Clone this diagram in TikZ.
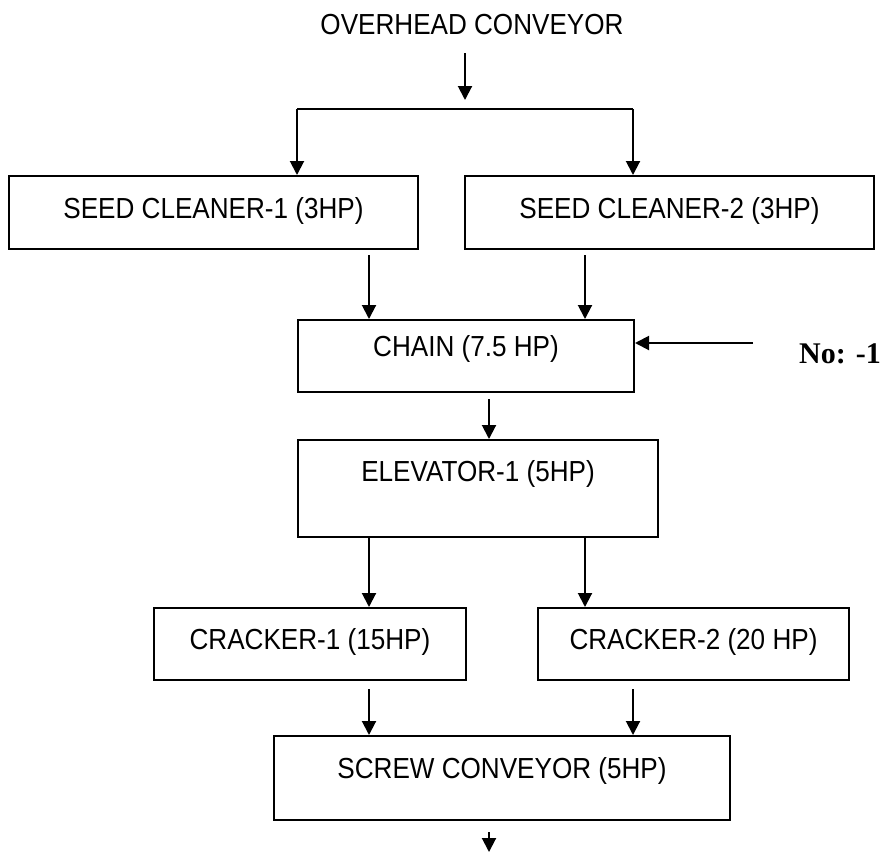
\documentclass[tikz,border=0pt]{standalone}
\usepackage{fontspec}
\setmainfont{Liberation Sans}[FakeStretch=0.9]
\newfontfamily\notefont{Liberation Serif}
\usetikzlibrary{arrows.meta}

\tikzset{
  label text/.style={font=\fontsize{29}{31}\selectfont, inner sep=0pt},
  stage/.style={draw, line width=2pt, inner xsep=0pt, inner ysep=0pt,
    anchor=north west, font=\fontsize{29}{31}\selectfont},
  flow/.style={line width=2pt, -{Triangle[length=14pt,width=14pt]}},
  link/.style={line width=2pt},
}

\begin{document}
\begin{tikzpicture}[x=1pt,y=-1pt]
\useasboundingbox (0,0) rectangle (882,854);

% column positions of the vertical connectors
\coordinate (xL) at (369,0);
\coordinate (xM) at (489,0);
\coordinate (xR) at (585,0);
\coordinate (xC) at (633,0);

% feed from the overhead conveyor and its split
\node[label text, anchor=base] (top) at (472,34) {OVERHEAD CONVEYOR};
\coordinate (feed) at (465,100);
\coordinate (jL) at (297,109);
\coordinate (jR) at (633,109);

% machine stages
\node[stage, minimum width=409pt, text height=42pt, text depth=31pt] (sc1) at (8,175) {SEED CLEANER-1 (3HP)};
\node[stage, minimum width=409pt, text height=42pt, text depth=31pt] (sc2) at (464,175) {SEED CLEANER-2 (3HP)};
\node[stage, minimum width=336pt, text height=36pt, text depth=36pt] (chain) at (297,319) {CHAIN (7.5 HP)};
\node[stage, minimum width=360pt, text height=41pt, text depth=56pt] (elev) at (297,439) {ELEVATOR-1 (5HP)};
\node[stage, minimum width=312pt, text height=41pt, text depth=31pt] (cr1) at (153,607) {CRACKER-1 (15HP)};
\node[stage, minimum width=311pt, text height=41pt, text depth=31pt] (cr2) at (537,607) {CRACKER-2 (20 HP)};
\node[stage, minimum width=456pt, text height=42pt, text depth=42pt] (screw) at (273,735) {SCREW CONVEYOR (5HP)};

% side input to the chain
\node[inner sep=0pt, anchor=base west, font=\notefont\bfseries\fontsize{30}{32}\selectfont] (no) at (799,363) {No: -1};
\coordinate (noin) at (753,343);

% outlet
\coordinate (out) at (489,852);

% connectors
\draw[flow, shorten <=19pt] (feed |- top.south) -- (feed);
\draw[link] (jL) -- (jR);
\draw[flow] (jL) -- (jL |- sc1.north);
\draw[flow] (jR) -- (jR |- sc2.north);

\draw[flow, shorten <=5pt] (sc1.south -| xL) -- (xL |- chain.north);
\draw[flow, shorten <=5pt] (sc2.south -| xR) -- (xR |- chain.north);
\draw[flow] (noin) -- (chain.east |- noin);

\draw[flow, shorten <=6pt] (chain.south -| xM) -- (xM |- elev.north);

\draw[flow] (elev.south -| xL) -- (xL |- cr1.north);
\draw[flow] (elev.south -| xR) -- (xR |- cr2.north);

\draw[flow, shorten <=8pt] (cr1.south -| xL) -- (xL |- screw.north);
\draw[flow, shorten <=8pt] (cr2.south -| xC) -- (xC |- screw.north);

\draw[flow, shorten <=11pt] (screw.south -| xM) -- (out);
\end{tikzpicture}
\end{document}
